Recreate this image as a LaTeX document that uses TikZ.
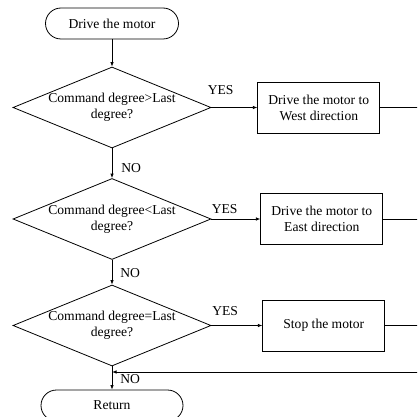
\documentclass[tikz,border=0pt]{standalone}
\usepackage{fontspec}
\setmainfont{Liberation Serif}
\usetikzlibrary{arrows.meta,calc,positioning,shapes.geometric}

\begin{document}
\begin{tikzpicture}[
    x=1pt, y=-1pt,
    >={Latex[length=4.5pt,width=3.5pt]},
    font=\fontsize{13.6}{16}\selectfont,
    flow/.style={line width=0.8pt},
    terminal/.style={draw,line width=0.8pt,rounded corners=15.5pt,minimum height=31pt,inner sep=0pt,align=center},
    decision/.style={draw,line width=0.8pt,diamond,aspect=2.44,inner sep=0pt,minimum width=198pt,minimum height=81pt,align=center},
    action/.style={draw,line width=0.8pt,minimum width=122pt,minimum height=51pt,inner sep=0pt,align=center},
    note/.style={inner sep=1pt}
]
\useasboundingbox (0,0) rectangle (417,417);
\clip (0,0) rectangle (417,417);

% --- Start, decisions, end ---
\node[terminal,minimum width=133pt] (start) at (112,23.5) {Drive the motor};
\node[decision] (dec1) at (112,107.5) {Command degree>Last\\degree?};
\node[decision] (dec2) at (112,219) {Command degree<Last\\degree?};
\node[decision] (dec3) at (112,325.5) {Command degree=Last\\degree?};
\node[terminal,minimum width=142pt] (ret) at (112,405.5) {Return};

% --- Actions on the YES arms ---
\node[action,right=46pt of dec1] (act1) {Drive the motor to\\West direction};
\node[action,right=49pt of dec2] (act2) {Drive the motor to\\East direction};
\node[action,right=51pt of dec3] (act3) {Stop the motor};

% --- Return bus (runs past the right edge) ---
\coordinate (bus) at (440,372);
\coordinate (merge) at (dec3.south |- bus);

% --- Main line ---
\draw[flow,->] (start.south) -- (dec1.north);
\draw[flow,->] (dec1.south) -- (dec2.north) node[note,pos=0.65,right=8pt] {NO};
\draw[flow,->] (dec2.south) -- (dec3.north) node[note,pos=0.53,right=7pt] {NO};
\draw[flow,->] (dec3.south) -- (ret.north) node[note,pos=0.54,right=7pt] {NO};

% --- YES arms ---
\draw[flow,->] (dec1.east) -- (act1.west) node[note,pos=0.2,above=11pt] {YES};
\draw[flow,->] (dec2.east) -- (act2.west) node[note,pos=0.27,above=4pt] {YES};
\draw[flow,->] (dec3.east) -- (act3.west) node[note,pos=0.27,above=8pt] {YES};

% --- Back to the main line ---
\draw[flow] (act1.east) -| (bus);
\draw[flow] (act2.east) -| (bus);
\draw[flow] (act3.east) -| (bus);
\draw[flow,->] (bus) -- (merge);
\end{tikzpicture}
\end{document}
